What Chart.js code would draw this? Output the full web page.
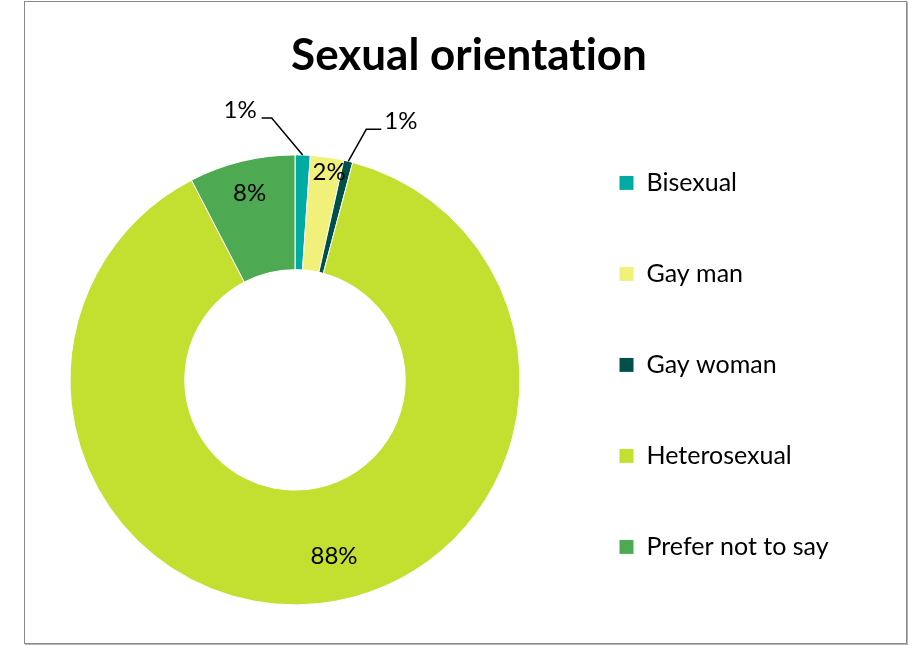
<!DOCTYPE html>
<html>
<head>
<meta charset="utf-8">
<title>Sexual orientation</title>
<script src="https://cdn.jsdelivr.net/npm/chart.js@4.4.1/dist/chart.umd.min.js"></script>
<style>
    html, body { margin: 0; padding: 0; background: #fff; }
    #wrap { position: relative; width: 922px; height: 646px; overflow: hidden; }
    #chart { position: absolute; left: 0; top: 0; }
    #frame {
        position: absolute; left: 24px; top: 1px; width: 881px; height: 641px;
        border: 1px solid #8a8a8a; box-shadow: 1px 1px 0 #b5b5b5;
        pointer-events: none;
    }
</style>
</head>
<body>
<div id="wrap">
    <canvas id="chart" width="901" height="646"></canvas>
    <div id="frame"></div>
</div>
<script>
    // Data (respondent counts)
    const categories = ['Bisexual', 'Gay man', 'Gay woman', 'Heterosexual', 'Prefer not to say'];
    const counts = [5, 11, 3, 406, 35];
    const sliceColors = ['#00aba3', '#f0f07a', '#00504a', '#c3df30', '#4daa52'];

    // Label placement per slice: inside labels use a radius, outside ones a leader line
    const insideLabels = {
        1: { r: 210, nudge: 0.02 },
        3: { r: 181, nudge: -0.108 },
        4: { r: 192, nudge: 0 }
    };
    const outsideLabels = {
        0: { elbow: [-31, -37], run: -10, gap: 5 },
        2: { elbow: [18, -32], run: 15, gap: 3 }
    };

    const font = 'Lato, Carlito, Calibri, sans-serif';

    /**
     * Give the legend a fixed width so it sits where the reference has it
     */
    const legendWidth = {
        id: 'legendWidth',
        beforeLayout(chart) {
            const legend = chart.legend;
            if (!legend || legend._fixedWidth) return;
            const fit = legend.fit;
            legend.fit = function() {
                fit.call(this);
                this.width = 348;
            };
            legend._fixedWidth = true;
        }
    };

    /**
     * Percentage labels, with leader lines for the thin slices
     */
    const sliceLabels = {
        id: 'sliceLabels',
        afterDatasetsDraw(chart) {
            const ctx = chart.ctx;
            const meta = chart.getDatasetMeta(0);
            const values = chart.data.datasets[0].data;
            const total = values.reduce((a, b) => a + b, 0);

            ctx.save();
            ctx.font = '24px ' + font;
            ctx.fillStyle = '#000';
            ctx.strokeStyle = '#000';
            ctx.lineWidth = 1.5;
            ctx.textBaseline = 'middle';

            meta.data.forEach((arc, i) => {
                const p = arc.getProps(['x', 'y', 'startAngle', 'endAngle', 'outerRadius']);
                const mid = (p.startAngle + p.endAngle) / 2;
                const text = Math.round(values[i] / total * 100) + '%';

                if (insideLabels[i]) {
                    const o = insideLabels[i];
                    const a = mid + o.nudge;
                    ctx.textAlign = 'center';
                    ctx.fillText(text, p.x + o.r * Math.cos(a), p.y + o.r * Math.sin(a));
                } else if (outsideLabels[i]) {
                    const o = outsideLabels[i];
                    const ax = p.x + p.outerRadius * Math.cos(mid);
                    const ay = p.y + p.outerRadius * Math.sin(mid);
                    const ex = ax + o.elbow[0];
                    const ey = ay + o.elbow[1];
                    const hx = ex + o.run;
                    ctx.beginPath();
                    ctx.moveTo(ax, ay);
                    ctx.lineTo(ex, ey);
                    ctx.lineTo(hx, ey);
                    ctx.stroke();
                    if (o.run < 0) {
                        ctx.textAlign = 'right';
                        ctx.fillText(text, hx - o.gap, ey - 8);
                    } else {
                        ctx.textAlign = 'left';
                        ctx.fillText(text, hx + o.gap, ey - 8);
                    }
                }
            });
            ctx.restore();
        }
    };

    new Chart(document.getElementById('chart'), {
        type: 'doughnut',
        data: {
            labels: categories,
            datasets: [{
                data: counts,
                backgroundColor: sliceColors,
                borderColor: '#ffffff',
                borderWidth: 1,
                radius: 225
            }]
        },
        options: {
            responsive: false,
            animation: false,
            cutout: '49%',
            layout: {
                padding: { left: 37, right: 0, top: 0, bottom: 0 }
            },
            plugins: {
                title: {
                    display: true,
                    // zero-width non-joiner keeps Lato from fusing "ti"
                    text: 'Sexual orientat\u200Cion',
                    color: '#000',
                    font: { family: font, size: 44, weight: 'bold', lineHeight: 1.2 },
                    padding: { top: 29, bottom: 32 }
                },
                legend: {
                    position: 'right',
                    align: 'start',
                    title: {
                        display: true,
                        text: '',
                        padding: { top: 0, bottom: 90 }
                    },
                    labels: {
                        boxWidth: 15,
                        boxHeight: 15,
                        padding: 66,
                        color: '#000',
                        font: { family: font, size: 25 }
                    }
                },
                tooltip: { enabled: false }
            }
        },
        plugins: [legendWidth, sliceLabels]
    });
</script>
</body>
</html>
